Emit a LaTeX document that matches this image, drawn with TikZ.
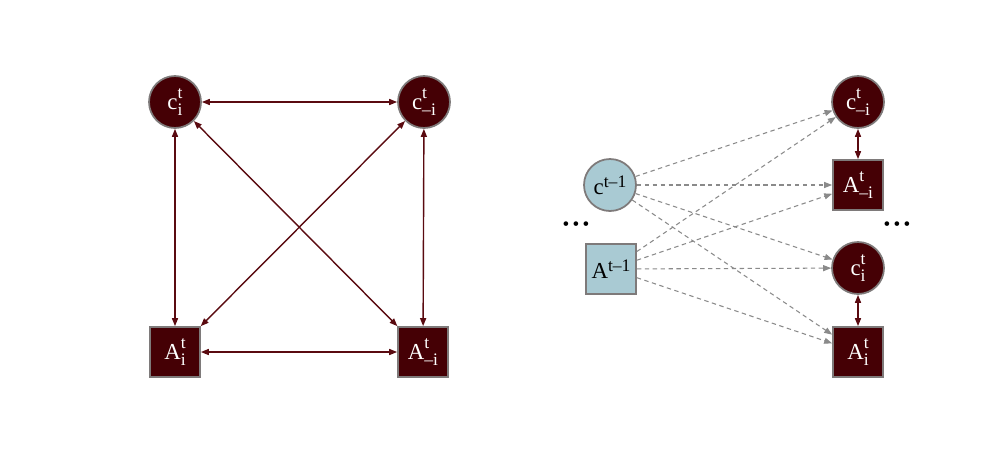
\documentclass[tikz,border=0pt]{standalone}
\usepackage{fontspec}
\setmainfont{Liberation Serif}
\usetikzlibrary{arrows.meta,positioning}
\definecolor{nbfill}{HTML}{450005}
\definecolor{nbdraw}{HTML}{7E7A7A}
\definecolor{nbedge}{HTML}{5A0A10}
\definecolor{nbprev}{HTML}{A9CAD3}
\definecolor{nbdash}{HTML}{8A8A8A}
% base letter with stacked super- and subscript
\newcommand{\nv}[3]{#1\raisebox{-3.4pt}{\fontsize{10}{10}\selectfont\shortstack[l]{#2\\#3}}}
\newcommand{\nvp}[2]{#1\raisebox{4.2pt}{\fontsize{10}{10}\selectfont #2}}
\tikzset{
  st/.style    = {circle, draw=nbdraw, line width=1pt, fill=nbfill,
                  minimum size=1.04cm, inner sep=0pt, text=white,
                  font=\fontsize{13}{15}\selectfont},
  act/.style   = {rectangle, draw=nbdraw, line width=1pt, fill=nbfill,
                  minimum size=1.0cm, inner sep=0pt, text=white,
                  font=\fontsize{13}{15}\selectfont},
  prev/.style  = {st, fill=nbprev, text=black},
  prevsq/.style= {act, fill=nbprev, text=black},
  ed/.style    = {{Triangle[length=4.5pt,width=3.4pt]}-{Triangle[length=4.5pt,width=3.4pt]},
                  draw=nbedge, line width=0.8pt},
  edd/.style   = {-{Triangle[length=4.5pt,width=3.4pt]}, draw=nbdash,
                  line width=0.6pt, dash pattern=on 2.5pt off 2pt},
  dots/.style  = {font=\fontsize{11}{11}\selectfont, inner sep=0pt},
}

\begin{document}
\begin{tikzpicture}[x=0.02cm,y=-0.02cm]
  \fill[white] (0,0) rectangle (1000,457);
  % simultaneous play at time t
  \node[st]  (ci)  at (175,102) {\nv{c}{t}{i}};
  \node[st]  (cmi) at (424,102) {\nv{c}{t}{–i}};
  \node[act] (ai)  at (175,352) {\nv{A}{t}{i}};
  \node[act] (ami) at (423,352) {\nv{A}{t}{–i}};
  \draw[ed] (ci) -- (cmi);
  \draw[ed] (ai) -- (ami);
  \draw[ed] (ci) -- (ai);
  \draw[ed] (cmi) -- (ami);
  \draw[ed] (ci) -- (ami);
  \draw[ed] (cmi) -- (ai);

  % dependence on the previous period
  \node[prev]   (cp) at (610,185) {\nvp{c}{t–1}};
  \node[prevsq] (ap) at (611,269) {\nvp{A}{t–1}};
  \node[st]  (rcmi) at (858,102) {\nv{c}{t}{–i}};
  \node[act] (rami) at (858,185) {\nv{A}{t}{–i}};
  \node[st]  (rci)  at (858,268) {\nv{c}{t}{i}};
  \node[act] (rai)  at (858,352) {\nv{A}{t}{i}};
  \draw[ed] (rcmi) -- (rami);
  \draw[ed] (rci) -- (rai);
  \foreach \s in {cp,ap}
    \foreach \t in {rcmi,rami,rci,rai}
      \draw[edd] (\s) -- (\t);
  \node[dots] (dl) at (576,226) {•\,•\,•};
  \node[dots] (dr) at (897,226) {•\,•\,•};
\end{tikzpicture}
\end{document}
